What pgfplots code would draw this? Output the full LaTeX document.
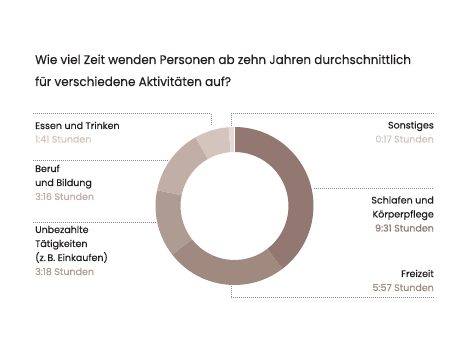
\documentclass[border=0pt]{standalone}
\usepackage{fontspec}
\setmainfont[FakeBold=0.25]{Poppins}
\newfontfamily\titlefam[FakeStretch=0.96,FakeBold=0.25]{Poppins}
\usepackage{pgfplots}
\usepackage{pgfplotstable}
\pgfplotsset{compat=1.18}
\definecolor{seg0}{HTML}{927870}
\definecolor{seg1}{HTML}{A08A80}
\definecolor{seg2}{HTML}{AE9C93}
\definecolor{seg3}{HTML}{C1AFA7}
\definecolor{seg4}{HTML}{D3C4BD}
\definecolor{seg5}{HTML}{E4DAD6}
\definecolor{txt}{HTML}{231F20}
\definecolor{dotc}{HTML}{8A8A8A}
\pgfplotstableread{
idx minutes
0 571
1 357
2 198
3 196
4 101
5 17
}\timedata
\newcommand\tfont{\titlefam\fontsize{12.5}{15}\selectfont}
\newcommand\lfont{\fontsize{9.5}{12}\selectfont}
\begin{document}
\begin{tikzpicture}
\begin{axis}[x=1pt,y=1pt,xmin=0,xmax=469,ymin=0,ymax=355,y dir=reverse,
  hide axis,clip=false]
\fill[white] (axis cs:0,0) rectangle (axis cs:469,355);
\pgfplotsextra{
  \xdef\cumA{0}
  \foreach \i in {0,...,5}{
    \pgfplotstablegetelem{\i}{minutes}\of\timedata
    \let\mins\pgfplotsretval
    % 1440 minutes = 360 degrees; y axis reversed, so angles are mirrored
    \pgfmathsetmacro\sa{\cumA/4-90}
    \pgfmathsetmacro\ea{(\cumA+\mins)/4-90}
    \fill[seg\i,shift={(axis cs:234.5,206)}] (\sa:79) arc[start angle=\sa,end angle=\ea,radius=79]
      -- (\ea:54) arc[start angle=\ea,end angle=\sa,radius=54] -- cycle;
    \pgfmathsetmacro\tmp{\cumA+\mins}
    \xdef\cumA{\tmp}
  }
  \draw[white,line width=0.7pt,shift={(axis cs:234.5,206)}] (-90:53.5) -- (-90:79.5);
}
% leader lines
\tikzset{ld/.style={dotc,line width=1pt,dash pattern=on 1pt off 1pt}}
\draw[ld] (axis cs:33,114) -- (axis cs:211,114) -- (axis cs:211,126);
\draw[ld] (axis cs:434,114) -- (axis cs:231,114) -- (axis cs:231,126);
\draw[ld] (axis cs:33,161) -- (axis cs:168,161);
\draw[ld] (axis cs:33,223) -- (axis cs:157,223);
\draw[ld] (axis cs:314,189) -- (axis cs:434,189);
\draw[ld] (axis cs:434,298) -- (axis cs:231,298) -- (axis cs:231,285);
% title
\node[anchor=base west,inner sep=0,text=txt,font=\tfont] at (axis cs:35,64) {Wie viel Zeit wenden Personen ab zehn Jahren durchschnittlich};
\node[anchor=base west,inner sep=0,text=txt,font=\tfont] at (axis cs:35,86) {für verschiedene Aktivitäten auf?};
% left labels
\node[anchor=base west,inner sep=0,text=txt,font=\lfont] at (axis cs:35,129) {Essen und Trinken};
\node[anchor=base west,inner sep=0,text=seg4,font=\lfont] at (axis cs:35,142.5) {1:41 Stunden};
\node[anchor=base west,inner sep=0,text=txt,font=\lfont] at (axis cs:35,172) {Beruf};
\node[anchor=base west,inner sep=0,text=txt,font=\lfont] at (axis cs:35,186) {und Bildung};
\node[anchor=base west,inner sep=0,text=seg3,font=\lfont] at (axis cs:35,200) {3:16 Stunden};
\node[anchor=base west,inner sep=0,text=txt,font=\lfont] at (axis cs:35,233) {Unbezahlte};
\node[anchor=base west,inner sep=0,text=txt,font=\lfont] at (axis cs:35,247) {Tätigkeiten};
\node[anchor=base west,inner sep=0,text=txt,font=\lfont] at (axis cs:35,261) {(z.\,B. Einkaufen)};
\node[anchor=base west,inner sep=0,text=seg2,font=\lfont] at (axis cs:35,275) {3:18 Stunden};
% right labels
\node[anchor=base east,inner sep=0,text=txt,font=\lfont] at (axis cs:434,128.5) {Sonstiges};
\node[anchor=base east,inner sep=0,text=seg5!90!black,font=\lfont] at (axis cs:434,142.5) {0:17 Stunden};
\node[anchor=base east,inner sep=0,text=txt,font=\lfont] at (axis cs:434,203.5) {Schlafen und};
\node[anchor=base east,inner sep=0,text=txt,font=\lfont] at (axis cs:434,217.5) {Körperpflege};
\node[anchor=base east,inner sep=0,text=seg0,font=\lfont] at (axis cs:434,231.5) {9:31 Stunden};
\node[anchor=base east,inner sep=0,text=txt,font=\lfont] at (axis cs:434,277) {Freizeit};
\node[anchor=base east,inner sep=0,text=seg1,font=\lfont] at (axis cs:434,291) {5:57 Stunden};
\end{axis}
\end{tikzpicture}
\end{document}
